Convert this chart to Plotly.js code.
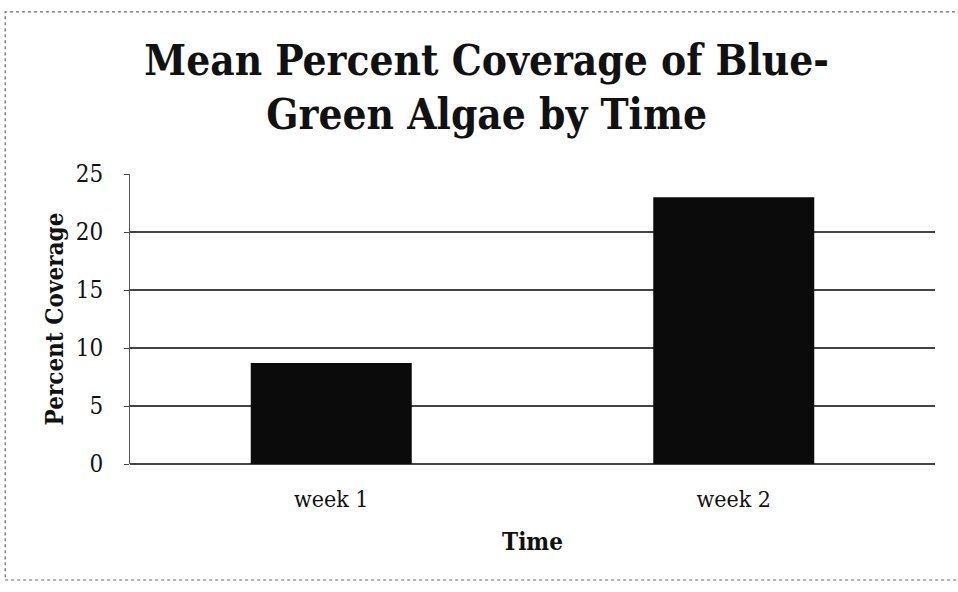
<!DOCTYPE html>
<html>
<head>
<meta charset="utf-8">
<script src="https://cdn.plot.ly/plotly-3.0.1.min.js"></script>
<style>
  html, body { margin: 0; padding: 0; background: #fff; }
  #chart { width: 958px; height: 592px; }
</style>
</head>
<body>
<div id="chart"></div>
<script>
// Mean percent coverage of blue-green algae, per week
const weeks = ["week 1", "week 2"];
const meanCoverage = [8.7, 23.0];
const yTicks = [0, 5, 10, 15, 20, 25];

const serif = "DejaVu Serif Condensed, DejaVu Serif, serif";

const trace = {
  type: "bar",
  x: weeks,
  y: meanCoverage,
  marker: { color: "#0b0b0b", line: { width: 0 } },
  hoverinfo: "x+y"
};

const layout = {
  width: 958,
  height: 592,
  margin: { l: 130, r: 23, t: 174, b: 128 },
  paper_bgcolor: "#ffffff",
  plot_bgcolor: "#ffffff",
  showlegend: false,
  bargap: 0.6,
  title: {
    text: "<b>Mean Percent Coverage of Blue-<br>Green Algae by Time</b>",
    font: { family: serif, size: 42, color: "#111" },
    x: 0.508, xref: "container", xanchor: "center",
    y: 0.874, yref: "container", yanchor: "middle"
  },
  xaxis: {
    type: "category",
    tickfont: { family: serif, size: 23, color: "#111" },
    ticks: "",
    ticklabelstandoff: 19,
    showline: false,
    showgrid: false,
    title: { text: "<b>Time</b>", font: { family: serif, size: 24, color: "#111" }, standoff: 22 }
  },
  yaxis: {
    range: [0, 25],
    tickvals: yTicks,
    ticktext: yTicks.map(String),
    tickfont: { family: serif, size: 24, color: "#111" },
    ticklabelstandoff: 16,
    showgrid: true,
    gridcolor: "#444",
    gridwidth: 1.5,
    zeroline: true,
    zerolinecolor: "#444",
    zerolinewidth: 1.5,
    showline: true,
    linecolor: "#555",
    linewidth: 1,
    ticks: "outside",
    ticklen: 5,
    tickcolor: "#444",
    title: { text: "<b>Percent Coverage</b>", font: { family: serif, size: 24, color: "#111" }, standoff: 5 }
  },
  shapes: [
    {
      type: "rect", xref: "paper", yref: "paper",
      x0: -0.155, x1: 1.2, y0: -0.4, y1: 1.559,
      line: { color: "#666", width: 1.2, dash: "dot" },
      fillcolor: "rgba(0,0,0,0)", layer: "below"
    }
  ]
};

Plotly.newPlot("chart", [trace], layout, { displayModeBar: false, staticPlot: true });
</script>
</body>
</html>
